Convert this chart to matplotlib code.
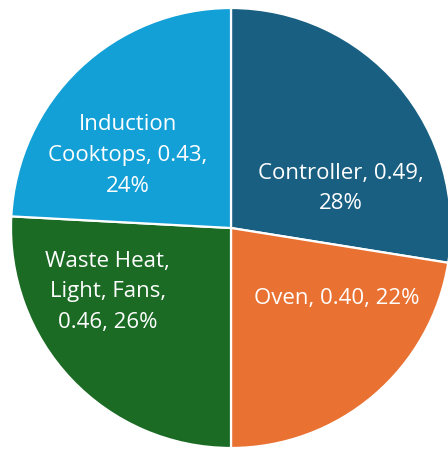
import matplotlib
matplotlib.use("Agg")
import matplotlib.pyplot as plt

# data
categories = ["Controller", "Oven", "Waste Heat,\nLight, Fans", "Induction\nCooktops"]
values = [0.49, 0.40, 0.46, 0.43]
colors = ["#185F82", "#E97132", "#1B6B24", "#12A0D7"]

# label layout (x/y offsets from centre, in radius units) and text breaks
label_pos = [(0.50, 0.18), (0.48, -0.32), (-0.56, -0.29), (-0.47, 0.33)]
label_fmt = ["{c}, {v:.2f},\n{p}%", "{c}, {v:.2f}, {p}%", "{c},\n{v:.2f}, {p}%", "{c}, {v:.2f},\n{p}%"]

plt.rcParams["font.family"] = ["Open Sans", "DejaVu Sans"]

R = 220.0
cx, cy = 231.0, 221.0  # pixel centre from bottom-left
W, H = 448, 449

fig = plt.figure(figsize=(W / 100, H / 100), dpi=100)
ax = fig.add_axes([0, 0, 1, 1])
ax.pie(values, colors=colors, startangle=90, counterclock=False, radius=1.0,
       wedgeprops=dict(edgecolor="white", linewidth=1.6))
ax.set_aspect("auto")
ax.set_xlim(-cx / R, (W - cx) / R)
ax.set_ylim(-cy / R, (H - cy) / R)
ax.axis("off")

total = sum(values)
for cat, v, fmt, (x, y) in zip(categories, values, label_fmt, label_pos):
    pct = round(v / total * 100)
    ax.text(x, y, fmt.format(c=cat, v=v, p=pct), color="white", fontsize=16,
            ha="center", va="center", multialignment="center", linespacing=1.6)

fig.savefig("out.png", dpi=100)
